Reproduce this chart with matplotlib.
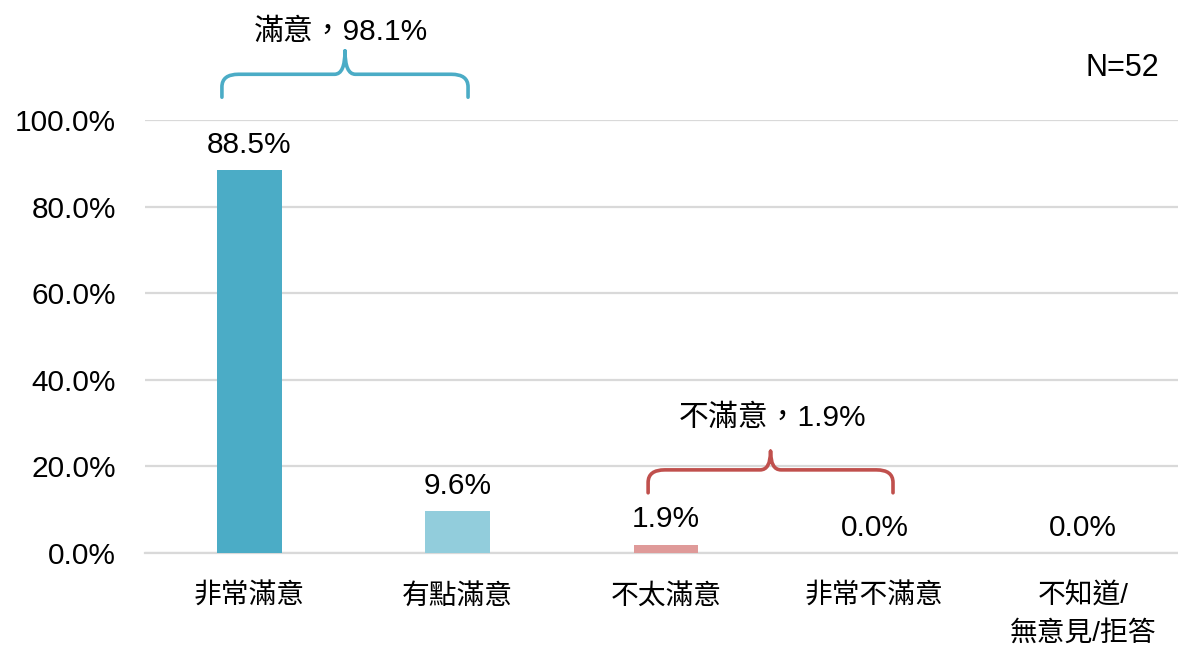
import matplotlib
matplotlib.use("Agg")
import matplotlib.pyplot as plt
from matplotlib.path import Path
from matplotlib.patches import PathPatch

categories = ["非常滿意", "有點滿意", "不太滿意", "非常不滿意", "不知道/\n無意見/拒答"]
values = [88.5, 9.6, 1.9, 0.0, 0.0]
bar_colors = ["#4BACC6", "#92CDDC", "#DF9A99", "#4BACC6", "#4BACC6"]
yticks = [0, 20, 40, 60, 80, 100]
sat_label = "滿意，98.1%"
dissat_label = "不滿意，1.9%"
n_label = "N=52"

FAM = ["Liberation Sans", "Noto Sans CJK TC", "DejaVu Sans"]
plt.rcParams["font.family"] = FAM

fig = plt.figure(figsize=(11.78, 6.46), dpi=100)
ax = fig.add_axes([0.1231, 0.144, 0.8846, 0.670])

x = list(range(len(categories)))
ax.bar(x, values, width=0.31, color=bar_colors, zorder=3)
for xi, v in zip(x, values):
    ax.text(xi, v + 2.6, f"{v:.1f}%", ha="center", va="bottom", fontsize=21.5, color="#000000")

ax.set_xlim(-0.5, len(categories) - 0.5)
ax.set_ylim(0, 100)
ax.set_yticks(yticks)
ax.set_yticklabels([f"{t:.1f}%" for t in yticks], fontsize=21.5)
ax.set_xticks(x)
ax.set_xticklabels(categories, fontsize=20, linespacing=1.55, va="top")
ax.tick_params(axis="both", length=0)
ax.tick_params(axis="x", pad=22)
ax.tick_params(axis="y", pad=21)
ax.grid(axis="y", color="#D9D9D9", linewidth=1.6, zorder=0)
for s in ["top", "right", "left"]:
    ax.spines[s].set_visible(False)
ax.spines["bottom"].set_color("#D9D9D9")
ax.spines["bottom"].set_linewidth(1.6)


def brace(ax, x0, x1, ybot, ymid, ytip, color):
    xm = (x0 + x1) / 2
    rx = 0.08
    rc = 0.05
    dy = (ymid - ybot) * 0.55
    verts = [
        (x0, ybot), (x0, ymid - dy), (x0, ymid), (x0 + rx, ymid),
        (xm - rc, ymid), (xm, ymid), (xm, ytip),
        (xm, ytip), (xm, ymid), (xm + rc, ymid),
        (x1 - rx, ymid), (x1, ymid), (x1, ymid - dy), (x1, ybot),
    ]
    codes = [Path.MOVETO, Path.LINETO, Path.CURVE3, Path.CURVE3,
             Path.LINETO, Path.CURVE3, Path.CURVE3,
             Path.MOVETO, Path.CURVE3, Path.CURVE3,
             Path.LINETO, Path.CURVE3, Path.CURVE3, Path.LINETO]
    p = PathPatch(Path(verts, codes), fill=False, edgecolor=color, linewidth=2.6,
                  clip_on=False, zorder=4, capstyle="round", joinstyle="round")
    ax.add_patch(p)


brace(ax, -0.131, 1.05, 105.3, 110.6, 116.0, "#4BACC6")
brace(ax, 1.914, 3.089, 13.9, 19.2, 23.5, "#C0504D")

ax.text(0.44, 120.3, sat_label, ha="center", va="center", fontsize=21.5, clip_on=False)
ax.text(2.51, 31.3, dissat_label, ha="center", va="center", fontsize=21.5)
ax.text(4.19, 112.0, n_label, ha="center", va="center", fontsize=22, clip_on=False)

fig.savefig("out.png", dpi=100)
